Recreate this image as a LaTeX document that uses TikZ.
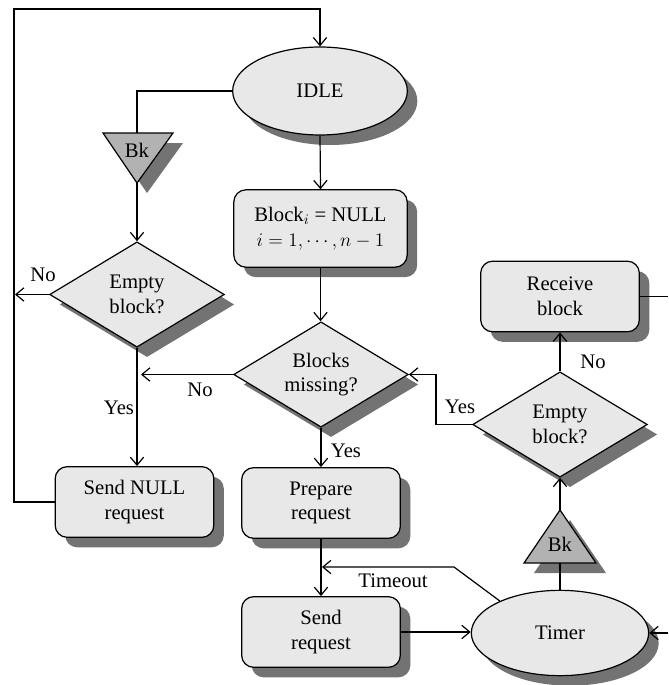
\documentclass[tikz,border=0pt]{standalone}
\usepackage{fontspec}
\setmainfont{Liberation Serif}
\usetikzlibrary{shapes.geometric,shadows,arrows.meta}
\tikzset{
  shd/.style={drop shadow={shadow xshift=7.5pt,shadow yshift=-7.5pt,fill=black!55,opacity=1}},
  base/.style={draw=black,line width=0.9pt,fill=black!9,shd,align=center,inner sep=0pt,
     font=\fontsize{15.5}{18.5}\selectfont},
  boxnode/.style={base,rectangle,rounded corners=9pt,minimum width=119pt,minimum height=53pt},
  decision/.style={base,diamond,aspect=1.67,minimum width=131pt,minimum height=79pt},
  state/.style={base,ellipse,minimum width=131pt,minimum height=66pt},
  lbl/.style={font=\fontsize{15.5}{18}\selectfont,inner sep=0pt},
  conn/.style={line width=0.9pt,draw=black},
  arr/.style={conn,-{Straight Barb[length=6pt,width=10pt]}},
}
\begin{document}
\begin{tikzpicture}[x=0.75pt,y=-0.75pt]
\useasboundingbox (0,0) rectangle (668,685);

% nodes
\node[state] (idle) at (320,91) {IDLE};
\node[boxnode,minimum width=130pt,minimum height=58pt] (blk) at (320.5,228.5)
  {Block$_i$ = NULL\\$i = 1, \cdots, n-1$};
\node[decision] (ed1) at (137,294.5) {Empty\\block?};
\node[decision] (bm) at (321,374.5) {Blocks\\missing?};
\node[boxnode] (snull) at (134.5,502) {Send NULL\\request};
\node[boxnode] (prep) at (321,503) {Prepare\\request};
\node[boxnode] (sreq) at (321,632) {Send\\request};
\node[state,minimum width=133pt,minimum height=64pt] (timer) at (560,633) {Timer};
\node[decision] (ed2) at (560,424.5) {Empty\\block?};
\node[boxnode] (recv) at (560,296.5) {Receive\\block};

% triangle Bk (down)
\fill[black!55] (113,143) -- (183,143) -- (147,193) -- cycle;
\filldraw[conn,fill=black!30] (103,133) -- (173,133) -- (137,183) -- cycle;
\node[lbl] (bk1) at (137,150) {Bk};
\coordinate (bk1top) at (137,133);
\coordinate (bk1tip) at (137,183);

% triangle Bk (up)
\fill[black!55] (534,573) -- (606,573) -- (570,520) -- cycle;
\filldraw[conn,fill=black!30] (524,563) -- (596,563) -- (560,510) -- cycle;
\node[lbl] (bk2) at (560,544) {Bk};
\coordinate (bk2base) at (560,563);
\coordinate (bk2tip) at (560,510);

% helper coordinates
\coordinate (lx) at (14,9);
\coordinate (noend) at (15,294.5);
\coordinate (tj) at (322,567);
\coordinate (rin) at (668,633);
\coordinate (rout) at (668,296.5);

% connectors
\draw[arr] (snull.west) -- (14,502) -- (lx) -- (320,9) -- (idle.north);
\draw[conn] (idle.west) -- (137,91) -- (bk1top);
\draw[arr] (bk1tip) -- (ed1.north);
\draw[arr] (ed1.west) -- (noend);
\draw[arr] (ed1.south) -- (ed1.south |- snull.north);
\draw[arr] (idle.south) -- (blk.north);
\draw[arr] (blk.south) -- (blk.south |- bm.north);
\draw[arr] (bm.west) -- (141,374.5);
\draw[arr] (bm.south) -- (prep.north);
\draw[arr] (prep.south) -- (sreq.north);
\draw[arr] (timer.152) -- (454,567) -- (tj);
\draw[arr] (sreq.east) -- (sreq.east -| timer.west);
\draw[arr] (rin) -- (timer.east);
\draw[conn] (timer.north) -- (bk2base);
\draw[arr] (bk2tip) -- (ed2.south);
\draw[arr] (ed2.west) -- (436,424.5) -- (436,374.5) -- (bm.east);
\draw[arr] (ed2.north) -- (recv.south);
\draw[conn] (recv.east) -- (rout);

% labels
\node[lbl] (l1) at (43,275) {No};
\node[lbl] (l2) at (119,408) {Yes};
\node[lbl] (l3) at (200,390) {No};
\node[lbl] (l4) at (346,451) {Yes};
\node[lbl] (l5) at (460,407) {Yes};
\node[lbl] (l6) at (593,362) {No};
\node[lbl] (l7) at (393,581) {Timeout};
\end{tikzpicture}
\end{document}
